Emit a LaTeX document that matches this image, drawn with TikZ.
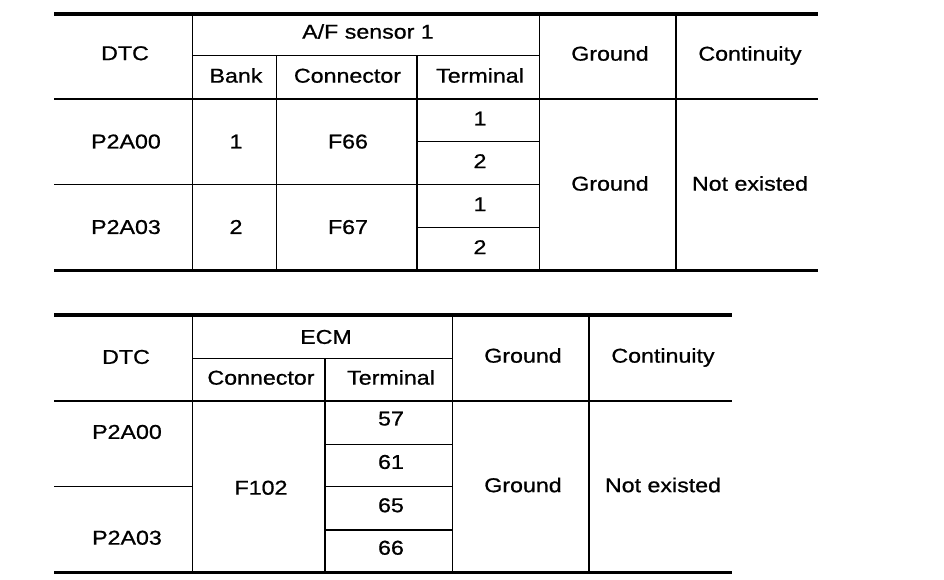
\documentclass[tikz,border=0pt]{standalone}
\usepackage{fontspec}
\setmainfont{Liberation Sans}[FakeStretch=1.16,FakeBold=0.8]
\begin{document}
\begin{tikzpicture}[x=1pt,y=-1pt,
  thickrule/.style={line width=3.3pt},
  midrule/.style={line width=2.2pt},
  thinrule/.style={line width=1.4pt},
  cell/.style={inner sep=0pt, text height=14.3pt, text depth=0pt, font=\fontsize{20}{23}\selectfont}]
\useasboundingbox (0,0) rectangle (944,580);
% ---------- top table ----------
\draw[thinrule] (192.5,14) -- (192.5,270.7);
\draw[thinrule] (276.7,55.7) -- (276.7,270.7);
\draw[thinrule] (417,55.7) -- (417,270.7);
\draw[thinrule] (539.3,14) -- (539.3,270.7);
\draw[thinrule] (676,14) -- (676,270.7);
\draw[thinrule] (192.5,55.7) -- (539.3,55.7);
\draw[thinrule] (417,141.7) -- (539.3,141.7);
\draw[thinrule] (54,184.3) -- (539.3,184.3);
\draw[thinrule] (417,227.7) -- (539.3,227.7);
\draw[midrule] (54,98.7) -- (818,98.7);
\draw[thickrule] (54,14) -- (818,14);
\draw[thickrule] (54,270.7) -- (818,270.7);
\node[cell] (t-dtc) at (125,53) {DTC};
\node[cell] (t-af) at (368,31.5) {A/F sensor 1};
\node[cell] (t-bank) at (236,75.5) {Bank};
\node[cell] (t-conn) at (347.5,75.5) {Connector};
\node[cell] (t-term) at (480,75.5) {Terminal};
\node[cell] (t-gnd) at (610,53.5) {Ground};
\node[cell] (t-cont) at (750,53.5) {Continuity};
\node[cell] (t-p00) at (126,141.3) {P2A00};
\node[cell] (t-b1) at (236,141.3) {1};
\node[cell] (t-f66) at (348,141.3) {F66};
\node[cell] (t-p03) at (126,226.8) {P2A03};
\node[cell] (t-b2) at (236,226.8) {2};
\node[cell] (t-f67) at (348,226.8) {F67};
\node[cell] (t-t1) at (480,118.3) {1};
\node[cell] (t-t2) at (480,161) {2};
\node[cell] (t-t3) at (480,204) {1};
\node[cell] (t-t4) at (480,247) {2};
\node[cell] (t-gnd2) at (610,183.5) {Ground};
\node[cell] (t-ne) at (750,183.5) {Not existed};
% ---------- bottom table ----------
\draw[thinrule] (192.3,315) -- (192.3,572.7);
\draw[thinrule] (325,358.3) -- (325,572.7);
\draw[thinrule] (452.3,315) -- (452.3,572.7);
\draw[thinrule] (589,315) -- (589,572.7);
\draw[thinrule] (192.3,358.3) -- (452.3,358.3);
\draw[thinrule] (325,444.3) -- (452.3,444.3);
\draw[thinrule] (54,486.7) -- (192.3,486.7);
\draw[thinrule] (325,486.7) -- (452.3,486.7);
\draw[thinrule] (325,530) -- (452.3,530);
\draw[midrule] (54,400.7) -- (731.7,400.7);
\draw[thickrule] (54,315) -- (731.7,315);
\draw[thickrule] (54,572.7) -- (731.7,572.7);
\node[cell] (b-dtc) at (126,356.7) {DTC};
\node[cell] (b-ecm) at (326,336.7) {ECM};
\node[cell] (b-conn) at (261,377.5) {Connector};
\node[cell] (b-term) at (391,377.5) {Terminal};
\node[cell] (b-gnd) at (523,355.5) {Ground};
\node[cell] (b-cont) at (663,355.5) {Continuity};
\node[cell] (b-p00) at (127,431.7) {P2A00};
\node[cell] (b-p03) at (127,537.5) {P2A03};
\node[cell] (b-f102) at (261,487.5) {F102};
\node[cell] (b-57) at (391,418.3) {57};
\node[cell] (b-61) at (391,461.7) {61};
\node[cell] (b-65) at (391,505) {65};
\node[cell] (b-66) at (391,547.5) {66};
\node[cell] (b-gnd2) at (523,485) {Ground};
\node[cell] (b-ne) at (663,485) {Not existed};
\end{tikzpicture}
\end{document}
